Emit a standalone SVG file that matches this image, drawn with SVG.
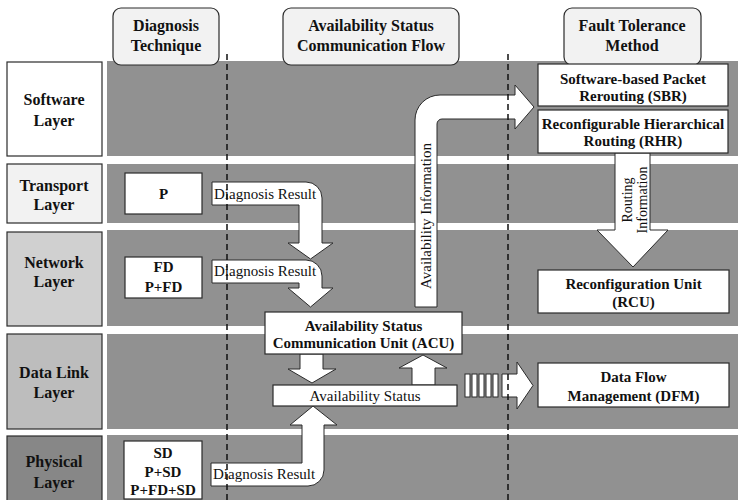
<svg xmlns="http://www.w3.org/2000/svg" width="738" height="500" viewBox="0 0 738 500">
  <style>
    .band { fill: #919191; }
    .box { fill: #ffffff; stroke: #2b2b2b; stroke-width: 1.2; }
    .head { fill: #f2f2f2; stroke: #2b2b2b; stroke-width: 1.2; }
    .arrow { fill: #ffffff; stroke: #2b2b2b; stroke-width: 1; stroke-linejoin: miter; }
    .b { font-family: "Liberation Serif", "Times New Roman", serif; font-weight: bold; font-size: 15px; fill: #111; text-anchor: middle; }
    .hb { font-family: "Liberation Serif", "Times New Roman", serif; font-weight: bold; font-size: 16px; fill: #111; text-anchor: middle; }
    .r { font-family: "Liberation Serif", "Times New Roman", serif; font-size: 15px; fill: #111; }
    .dash { stroke: #111; stroke-width: 1.5; stroke-dasharray: 6 4; fill: none; }
  </style>

  <rect width="738" height="500" fill="#ffffff"/>

  <!-- layer bands -->
  <g id="bands">
    <rect class="band" x="107" y="61" width="631" height="95"/>
    <rect class="band" x="107" y="164" width="631" height="59"/>
    <rect class="band" x="107" y="230" width="631" height="96"/>
    <rect class="band" x="107" y="334" width="631" height="95"/>
    <rect class="band" x="107" y="435" width="631" height="65"/>
  </g>

  <!-- column headers -->
  <g id="hdr-diagnosis">
    <rect class="head" x="113" y="8" width="106" height="57" rx="8"/>
    <text class="hb" x="166" y="31">Diagnosis</text>
    <text class="hb" x="166" y="51">Technique</text>
  </g>
  <g id="hdr-flow">
    <rect class="head" x="283" y="8" width="176" height="57" rx="8"/>
    <text class="hb" x="371" y="31">Availability Status</text>
    <text class="hb" x="371" y="51">Communication Flow</text>
  </g>
  <g id="hdr-fault">
    <rect class="head" x="564" y="8" width="137" height="57" rx="8"/>
    <text class="hb" x="632" y="31">Fault Tolerance</text>
    <text class="hb" x="632" y="51">Method</text>
  </g>

  <!-- layer labels -->
  <g id="layer-software">
    <rect class="box" x="7" y="62" width="95" height="94"/>
    <text class="hb" x="54" y="105">Software</text>
    <text class="hb" x="54" y="126">Layer</text>
  </g>
  <g id="layer-transport">
    <rect class="box" x="7" y="164" width="95" height="59" style="fill:#f2f2f2"/>
    <text class="hb" x="54" y="191">Transport</text>
    <text class="hb" x="54" y="210">Layer</text>
  </g>
  <g id="layer-network">
    <rect class="box" x="7" y="232" width="95" height="94" style="fill:#d0d0d0"/>
    <text class="hb" x="54" y="268">Network</text>
    <text class="hb" x="54" y="287">Layer</text>
  </g>
  <g id="layer-datalink">
    <rect class="box" x="7" y="334" width="95" height="95" style="fill:#bdbdbd"/>
    <text class="hb" x="54" y="378">Data Link</text>
    <text class="hb" x="54" y="398">Layer</text>
  </g>
  <g id="layer-physical">
    <rect class="box" x="7" y="436" width="95" height="70" style="fill:#878787"/>
    <text class="hb" x="54" y="467">Physical</text>
    <text class="hb" x="54" y="488">Layer</text>
  </g>

  <!-- connectors -->
  <g id="connectors">
    <!-- transport diagnosis result -->
    <path class="arrow" d="M212,182 H306 A16,16 0 0 1 322,198 V243 H333 L310.5,259 L288,243 H299 V205 H212 Z"/>
    <text class="r" x="214" y="199">Diagnosis Result</text>
    <!-- network diagnosis result -->
    <path class="arrow" d="M212,260 H306 A16,16 0 0 1 322,276 V288 H333 L310.5,307 L288,288 H299 V283 H212 Z"/>
    <text class="r" x="214" y="276">Diagnosis Result</text>
    <!-- physical diagnosis result -->
    <path class="arrow" d="M211,463 H302 V425 H290 L313,406 L337,425 H324 V470 A16,16 0 0 1 308,486 H211 Z"/>
    <text class="r" x="213" y="479">Diagnosis Result</text>
    <!-- ACU to availability status -->
    <path class="arrow" d="M300,354 V369 H288 L312,383 L336,369 H323 V354 Z"/>
    <!-- availability status to ACU -->
    <path class="arrow" d="M412,385 V368 H399 L423,355 L447,368 H435 V385 Z"/>
    <!-- availability information to SBR -->
    <path class="arrow" d="M415,307 V120 A25,25 0 0 1 440,95 H515 V85 L534,107 L515,129 V119 H442 A5,5 0 0 0 437,124 V307 Z"/>
    <text class="r" transform="translate(431,216) rotate(-90)" text-anchor="middle">Availability Information</text>
    <!-- routing information RHR to RCU -->
    <path class="arrow" d="M615,153 V230 H597 L633,267 L668,230 H650 V153 Z"/>
    <text class="r" transform="translate(632,200) rotate(-90)" text-anchor="middle" style="font-size:14px">Routing</text>
    <text class="r" transform="translate(647,200) rotate(-90)" text-anchor="middle" style="font-size:14px">Information</text>
    <!-- availability status to DFM -->
    <rect class="arrow" x="465" y="374" width="5" height="23"/>
    <rect class="arrow" x="472" y="374" width="5" height="23"/>
    <rect class="arrow" x="479" y="374" width="5" height="23"/>
    <rect class="arrow" x="486" y="374" width="5" height="23"/>
    <rect class="arrow" x="493" y="374" width="5" height="23"/>
    <path class="arrow" d="M502,374 H517 V362 L533,385.5 L517,409 V397 H502 Z"/>
  </g>

  <!-- diagnosis techniques -->
  <g id="tech-transport">
    <rect class="box" x="125" y="173" width="77" height="41"/>
    <text class="b" x="163.5" y="199">P</text>
  </g>
  <g id="tech-network">
    <rect class="box" x="125" y="257" width="77" height="41"/>
    <text class="b" x="163.5" y="272">FD</text>
    <text class="b" x="163.5" y="292">P+FD</text>
  </g>
  <g id="tech-physical">
    <rect class="box" x="124" y="441" width="78" height="58"/>
    <text class="b" x="163" y="458">SD</text>
    <text class="b" x="163" y="477">P+SD</text>
    <text class="b" x="163" y="495">P+FD+SD</text>
  </g>

  <!-- communication units -->
  <g id="acu">
    <rect class="box" x="265" y="312" width="197" height="42"/>
    <text class="b" x="363.5" y="331">Availability Status</text>
    <text class="b" x="363.5" y="348">Communication Unit (ACU)</text>
  </g>
  <g id="availability-status">
    <rect class="box" x="273" y="385" width="184" height="21"/>
    <text class="r" x="365" y="400.5" text-anchor="middle">Availability Status</text>
  </g>

  <!-- fault tolerance methods -->
  <g id="sbr">
    <rect class="box" x="538" y="64" width="190" height="42"/>
    <text class="b" x="633" y="84">Software-based Packet</text>
    <text class="b" x="633" y="101">Rerouting (SBR)</text>
  </g>
  <g id="rhr">
    <rect class="box" x="538" y="110" width="190" height="43"/>
    <text class="b" x="633" y="129">Reconfigurable Hierarchical</text>
    <text class="b" x="633" y="146">Routing (RHR)</text>
  </g>
  <g id="rcu">
    <rect class="box" x="538" y="270" width="191" height="43"/>
    <text class="b" x="633.5" y="289">Reconfiguration Unit</text>
    <text class="b" x="633.5" y="307">(RCU)</text>
  </g>
  <g id="dfm">
    <rect class="box" x="538" y="363" width="191" height="44"/>
    <text class="b" x="633.5" y="382">Data Flow</text>
    <text class="b" x="633.5" y="401">Management (DFM)</text>
  </g>

  <!-- column separators -->
  <g id="separators">
    <line class="dash" x1="227" y1="54" x2="227" y2="500"/>
    <line class="dash" x1="508" y1="54" x2="508" y2="500"/>
  </g>
</svg>
